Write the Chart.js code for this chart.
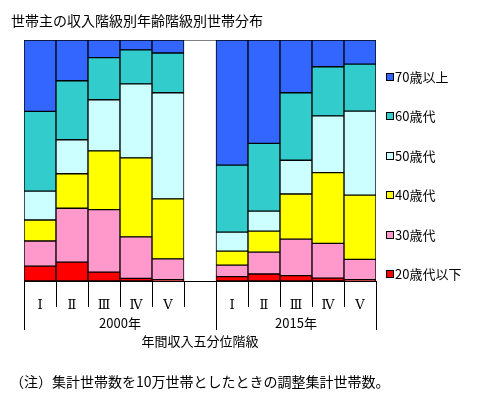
<!DOCTYPE html>
<html>
<head>
<meta charset="utf-8">
<script src="https://cdn.jsdelivr.net/npm/chart.js@4"></script>
<style>
  body { margin: 0; background: #fff; font-family: 'Noto Sans CJK JP', sans-serif; }
  #wrap { position: relative; width: 486px; height: 395px; }
  #title { position: absolute; left: 11px; top: 11px; font-size: 14px; line-height: 18px; color: #000; }
  #note { position: absolute; left: 10px; top: 372px; font-size: 14px; line-height: 18px; color: #000; }
  #legend { position: absolute; left: 386px; top: 0; }
  .item { position: absolute; left: 0; height: 16px; width: 100px; font-size: 13px; line-height: 16px; white-space: nowrap; color: #000; }
  .box { display: inline-block; width: 6px; height: 6px; border: 1px solid #000; margin-right: 1px; vertical-align: 1px; }
</style>
</head>
<body>
<div id="wrap">
  <canvas id="c" width="486" height="395"></canvas>
  <div id="title">世帯主の収入階級別年齢階級別世帯分布</div>
  <div id="legend"></div>
  <div id="note">（注）集計世帯数を10万世帯としたときの調整集計世帯数。</div>
</div>
<script>
// categories: quintiles of 2000 and 2015, empty column in between
const categories = ['Ⅰ', 'Ⅱ', 'Ⅲ', 'Ⅳ', 'Ⅴ', '', 'Ⅰ', 'Ⅱ', 'Ⅲ', 'Ⅳ', 'Ⅴ'];
const groupLabels = ['2000年', '2015年'];
const groupSizes = [6, 5];
const axisTitle = '年間収入五分位階級';

// share of households (%) by age of household head
const age20 = [6.2, 7.8, 3.7, 1.1, 0.6, null, 1.8, 2.9, 2.2, 1.2, 0.6];
const age30 = [10.4, 22.4, 25.9, 17.2, 8.6, null, 4.8, 9.1, 15.2, 14.4, 8.4];
const age40 = [8.7, 14.3, 24.4, 32.8, 24.9, null, 5.8, 8.7, 18.7, 29.4, 26.6];
const age50 = [12.0, 14.1, 21.2, 30.7, 44.0, null, 7.9, 8.3, 14.0, 23.5, 34.9];
const age60 = [33.1, 24.5, 17.5, 14.1, 16.5, null, 27.8, 28.1, 28.0, 20.4, 19.5];
const age70 = [29.6, 16.9, 7.3, 4.1, 5.4, null, 51.9, 42.9, 21.9, 11.1, 10.0];

const seriesNames = ['20歳代以下', '30歳代', '40歳代', '50歳代', '60歳代', '70歳以上'];
const seriesColors = ['#FF0000', '#FF99CC', '#FFFF00', '#CCFFFF', '#33CCCC', '#3366FF'];
const seriesData = [age20, age30, age40, age50, age60, age70];

Chart.defaults.font.family = "'Noto Sans CJK JP', sans-serif";
Chart.defaults.color = '#000';

// separators under the axis, year labels and axis title
const groupAxis = {
    id: 'groupAxis',
    beforeDatasetsDraw(chart) {
        const a = chart.chartArea;
        const ctx = chart.ctx;
        ctx.save();
        ctx.strokeStyle = '#808080';
        ctx.lineWidth = 1;
        ctx.beginPath();
        ctx.moveTo(a.left, a.top + 0.5);
        ctx.lineTo(a.right, a.top + 0.5);
        ctx.stroke();
        ctx.restore();
    },
    afterDraw(chart) {
        const a = chart.chartArea;
        const ctx = chart.ctx;
        const step = (a.right - a.left) / categories.length;
        const starts = [0];
        groupSizes.forEach(n => starts.push(starts[starts.length - 1] + n));
        ctx.save();
        ctx.strokeStyle = '#000';
        ctx.lineWidth = 1;
        for (let i = 0; i <= categories.length; i++) {
            const x = Math.round(a.left + i * step) + 0.5;
            const len = starts.includes(i) ? 49 : 26;
            ctx.beginPath();
            ctx.moveTo(x, a.bottom);
            ctx.lineTo(x, a.bottom + len);
            ctx.stroke();
        }
        ctx.fillStyle = '#000';
        ctx.textAlign = 'center';
        ctx.textBaseline = 'middle';
        ctx.font = "13px 'Noto Sans CJK JP', sans-serif";
        groupLabels.forEach((g, k) => {
            const cx = a.left + (starts[k] + starts[k + 1]) / 2 * step;
            ctx.fillText(g, cx, a.bottom + 42);
        });
        ctx.fillText(axisTitle, (a.left + a.right) / 2, a.bottom + 60);
        ctx.restore();
    }
};

new Chart(document.getElementById('c'), {
    type: 'bar',
    data: {
        labels: categories,
        datasets: seriesData.map((d, i) => ({
            label: seriesNames[i],
            data: d,
            backgroundColor: seriesColors[i],
            borderColor: '#000',
            borderWidth: 1,
            borderSkipped: false,
            barPercentage: 1,
            categoryPercentage: 1
        }))
    },
    options: {
        responsive: false,
        animation: false,
        layout: { padding: { left: 24, right: 110, top: 40, bottom: 84 } },
        plugins: { legend: { display: false }, tooltip: { enabled: false } },
        scales: {
            x: {
                stacked: true,
                offset: true,
                grid: { display: false },
                border: { display: true, color: '#000', width: 1 },
                ticks: {
                    autoSkip: false,
                    maxRotation: 0,
                    padding: 9,
                    font: { family: "'DejaVu Serif', serif", size: 13 },
                    color: '#000'
                },
                afterFit(scale) { scale.height = 30; }
            },
            y: { display: false, stacked: true, min: 0, max: 100 }
        }
    },
    plugins: [groupAxis]
});

// legend on the right, top item = oldest age group
const legend = document.getElementById('legend');
const legendTop = 69;
const legendGap = 39.4;
seriesNames.slice().reverse().forEach((name, k) => {
    const i = seriesNames.length - 1 - k;
    const item = document.createElement('div');
    item.className = 'item';
    item.style.top = Math.round(legendTop + k * legendGap) + 'px';
    item.innerHTML = '<span class="box" style="background:' + seriesColors[i] + '"></span>' + name;
    legend.appendChild(item);
});
</script>
</body>
</html>
